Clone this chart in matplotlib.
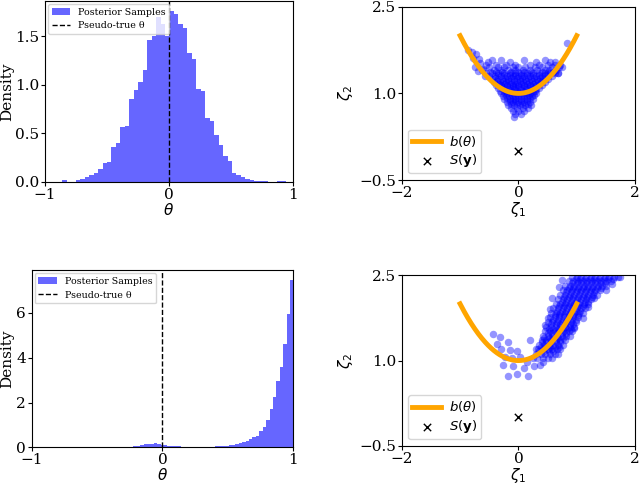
import numpy as np
import matplotlib
matplotlib.use("Agg")
import matplotlib.pyplot as plt

plt.rcParams['font.family'] = ['DejaVu Serif']
plt.rcParams['font.size'] = 11
plt.rcParams['xtick.major.size'] = 3
plt.rcParams['ytick.major.size'] = 3
plt.rcParams['xtick.major.pad'] = 1.2
plt.rcParams['ytick.major.pad'] = 1.2

# ---- histogram data (density per bin) ----
top_bin_lo, top_bin_hi = -0.86, 0.94
top_density = [0.02, 0.0, 0.0, 0.02, 0.03, 0.05, 0.07, 0.09, 0.13, 0.19,
               0.21, 0.36, 0.40, 0.56, 0.58, 0.85, 0.95, 1.03, 1.15, 1.46,
               1.50, 1.70, 1.62, 1.50, 1.76, 1.73, 1.62, 1.58, 1.33, 1.26,
               0.96, 0.94, 0.66, 0.63, 0.48, 0.38, 0.27, 0.22, 0.09, 0.07,
               0.05, 0.03, 0.02, 0.01, 0.01, 0.005, 0.0, 0.0, 0.005, 0.01]

bot_bin_lo, bot_bin_hi = -0.30, 1.00
bot_density = [0.02, 0.03, 0.04, 0.06, 0.08, 0.10, 0.14, 0.15, 0.16, 0.18,
               0.15, 0.12, 0.10, 0.08, 0.07, 0.06, 0.05, 0.04, 0.03, 0.03,
               0.03, 0.02, 0.02, 0.02, 0.03, 0.03, 0.04, 0.05, 0.05, 0.07,
               0.08, 0.10, 0.12, 0.15, 0.18, 0.26, 0.28, 0.38, 0.46, 0.52,
               0.72, 0.92, 1.22, 1.70, 2.25, 2.95, 3.60, 4.60, 5.95, 7.45]

pseudo_true = 0.0

# ---- summary statistic samples (zeta_1, zeta_2), rows of equal zeta_2 ----
top_rows = [
    (1.58, [-0.45, -0.3, 0.1, 0.45]),
    (1.55, [-0.52, -0.15, 0.3, 0.55, 0.62]),
    (1.50, [-0.55, -0.38, -0.22, -0.05, 0.2, 0.35, 0.5, 0.62, 0.72]),
    (1.45, [-0.5, -0.35, -0.25, -0.1, 0.0, 0.12, 0.28, 0.4, 0.58, 0.7, 0.75]),
    (1.40, [-0.62, -0.42, -0.3, -0.18, -0.05, 0.08, 0.2, 0.32, 0.45, 0.52, 0.65]),
    (1.37, [-0.48, -0.38, -0.28, -0.12, 0.0, 0.1, 0.22, 0.4, 0.5, 0.6]),
    (1.35, [-0.55, -0.45, -0.35, -0.25, -0.15, -0.05, 0.05, 0.15, 0.25, 0.35, 0.45, 0.55, 0.62, 0.68]),
    (1.32, [-0.35, -0.25, -0.15, -0.05, 0.05, 0.15, 0.25, 0.35, 0.45]),
    (1.30, [-0.5, -0.4, -0.3, -0.2, -0.1, 0.0, 0.1, 0.2, 0.3, 0.4, 0.5, 0.58]),
    (1.27, [-0.4, -0.23, -0.13, -0.03, 0.07, 0.17, 0.27, 0.37, 0.46]),
    (1.25, [-0.45, -0.35, -0.28, -0.18, -0.08, 0.02, 0.12, 0.22, 0.32, 0.42, 0.5]),
    (1.22, [-0.37, -0.27, -0.17, -0.07, 0.03, 0.13, 0.23, 0.33, 0.41]),
    (1.20, [-0.42, -0.32, -0.22, -0.12, -0.02, 0.08, 0.18, 0.28, 0.38, 0.46]),
    (1.17, [-0.34, -0.25, -0.15, -0.05, 0.05, 0.15, 0.25, 0.35]),
    (1.15, [-0.38, -0.3, -0.2, -0.1, 0.0, 0.1, 0.2, 0.3, 0.4]),
    (1.12, [-0.3, -0.2, -0.1, 0.0, 0.1, 0.2, 0.3]),
    (1.10, [-0.35, -0.25, -0.15, -0.05, 0.05, 0.15, 0.25, 0.35]),
    (1.07, [-0.27, -0.17, -0.07, 0.03, 0.13, 0.23, 0.31]),
    (1.05, [-0.32, -0.22, -0.12, -0.02, 0.08, 0.18, 0.28]),
    (1.02, [-0.25, -0.15, -0.05, 0.05, 0.15, 0.25]),
    (1.00, [-0.3, -0.2, -0.1, 0.0, 0.1, 0.2, 0.3]),
    (0.97, [-0.21, -0.11, -0.01, 0.09, 0.19, 0.27]),
    (0.95, [-0.26, -0.16, -0.06, 0.04, 0.14, 0.24]),
    (0.92, [-0.2, -0.1, 0.0, 0.1, 0.2]),
    (0.90, [-0.25, -0.15, -0.05, 0.05, 0.15, 0.25]),
    (0.87, [-0.15, -0.05, 0.05, 0.15]),
    (0.85, [-0.2, -0.1, 0.0, 0.1, 0.2]),
    (0.82, [-0.13, -0.03, 0.07, 0.17]),
    (0.80, [-0.18, -0.08, 0.02, 0.12, 0.22]),
    (0.75, [-0.12, -0.02, 0.08, 0.16]),
    (0.70, [-0.1, 0.0, 0.1]),
    (0.65, [-0.05, 0.05]),
    (0.60, [-0.08]),
]
top_extra_z1 = [-0.86, -0.8, -0.72, -0.78, -0.68, -0.65, -0.75, -0.6, -0.7, -0.58, 0.83, 0.68]
top_extra_z2 = [1.75, 1.72, 1.68, 1.62, 1.60, 1.52, 1.45, 1.42, 1.38, 1.30, 1.88, 1.35]

bot_rows = [
    (1.05, [0.32, 0.42, 0.5, 0.58]),
    (1.12, [0.3, 0.38, 0.46, 0.54, 0.62, 0.68]),
    (1.16, [0.36, 0.44, 0.52, 0.6]),
    (1.20, [0.34, 0.42, 0.5, 0.58, 0.66, 0.72]),
    (1.24, [0.38, 0.46, 0.54, 0.62, 0.7]),
    (1.28, [0.36, 0.44, 0.52, 0.6, 0.68, 0.76]),
    (1.32, [0.4, 0.48, 0.56, 0.64, 0.72]),
    (1.36, [0.4, 0.48, 0.56, 0.64, 0.72, 0.8]),
    (1.40, [0.44, 0.52, 0.6, 0.68, 0.76]),
    (1.44, [0.42, 0.5, 0.58, 0.66, 0.74, 0.82, 0.88]),
    (1.48, [0.5, 0.58, 0.66, 0.74, 0.82]),
    (1.52, [0.46, 0.54, 0.62, 0.7, 0.78, 0.86, 0.92]),
    (1.56, [0.52, 0.6, 0.68, 0.76, 0.84, 0.9]),
    (1.60, [0.48, 0.56, 0.64, 0.72, 0.8, 0.88, 0.96]),
    (1.64, [0.56, 0.64, 0.72, 0.8, 0.88, 0.94]),
    (1.68, [0.5, 0.58, 0.66, 0.74, 0.82, 0.9, 0.98]),
    (1.72, [0.6, 0.68, 0.76, 0.84, 0.92, 0.98]),
    (1.76, [0.54, 0.62, 0.7, 0.78, 0.86, 0.94, 1.02]),
    (1.80, [0.62, 0.7, 0.78, 0.86, 0.94, 1.02]),
    (1.84, [0.56, 0.64, 0.72, 0.8, 0.88, 0.96, 1.04, 1.1]),
    (1.88, [0.66, 0.74, 0.82, 0.9, 0.98, 1.06]),
    (1.92, [0.6, 0.68, 0.76, 0.84, 0.92, 1.0, 1.08, 1.14]),
    (1.96, [0.7, 0.78, 0.86, 0.94, 1.02, 1.1]),
    (2.00, [0.64, 0.72, 0.8, 0.88, 0.96, 1.04, 1.12, 1.2]),
    (2.04, [0.74, 0.82, 0.9, 0.98, 1.06, 1.14, 1.2]),
    (2.08, [0.68, 0.76, 0.84, 0.92, 1.0, 1.08, 1.16, 1.24]),
    (2.12, [0.78, 0.86, 0.94, 1.02, 1.1, 1.18, 1.26]),
    (2.16, [0.72, 0.8, 0.88, 0.96, 1.04, 1.12, 1.2, 1.28, 1.34]),
    (2.20, [0.82, 0.9, 0.98, 1.06, 1.14, 1.22, 1.3]),
    (2.24, [0.76, 0.84, 0.92, 1.0, 1.08, 1.16, 1.24, 1.32, 1.4]),
    (2.28, [0.86, 0.94, 1.02, 1.1, 1.18, 1.26, 1.34, 1.42]),
    (2.32, [0.8, 0.88, 0.96, 1.04, 1.12, 1.2, 1.28, 1.36, 1.44, 1.5]),
    (2.36, [0.92, 1.0, 1.08, 1.16, 1.24, 1.32, 1.4, 1.48]),
    (2.40, [0.86, 0.94, 1.02, 1.1, 1.18, 1.26, 1.34, 1.42, 1.5, 1.58]),
    (2.44, [0.98, 1.06, 1.14, 1.22, 1.3, 1.38, 1.46, 1.54, 1.62]),
    (2.48, [0.92, 1.0, 1.08, 1.16, 1.24, 1.32, 1.4, 1.48, 1.56, 1.64, 1.7]),
]
bot_extra_z1 = [-0.44, -0.31, -0.17, -0.29, -0.14, -0.03, -0.23, -0.11, 0.03, 0.14,
                -0.26, -0.09, 0.09, -0.17, -0.03, 0.17, 0.20, 0.31, 0.26, 0.37,
                -0.36, 0.25, 0.42, 0.45, 0.50, 0.55, 0.58, 0.70, 0.75, 1.10,
                1.20, 1.30, 1.50, 1.60, 1.75, 0.95]
bot_extra_z2 = [1.46, 1.42, 1.33, 1.21, 1.18, 1.16, 1.07, 1.04, 1.07, 0.98,
                0.93, 0.90, 0.87, 0.73, 0.76, 0.73, 1.36, 1.21, 0.90, 0.93,
                1.30, 1.05, 0.98, 1.62, 1.75, 1.90, 2.10, 2.30, 2.42, 1.75,
                1.95, 2.10, 2.25, 2.35, 2.48, 1.58]

# binding function b(theta) = (theta, 1 + theta^2) for theta in [-1, 1]
theta_grid = np.linspace(-1, 1, 200)
b_z1 = theta_grid
b_z2 = 1 + theta_grid ** 2
obs_z1, obs_z2 = 0.0, 0.0


def rows_to_xy(rows, ex1, ex2):
    z1 = [x for y, xs in rows for x in xs] + ex1
    z2 = [y for y, xs in rows for x in xs] + ex2
    return np.array(z1), np.array(z2)


def plot_hist(ax, lo, hi, dens, ytop, yticks, ylab_x):
    edges = np.linspace(lo, hi, len(dens) + 1)
    centers = 0.5 * (edges[:-1] + edges[1:])
    ax.hist(centers, bins=edges, weights=dens, color='blue', alpha=0.6,
            label='Posterior Samples')
    ax.axvline(pseudo_true, color='black', linestyle='--', linewidth=1,
               label='Pseudo-true θ')
    ax.set_xlim(-1, 1)
    ax.set_ylim(0, ytop)
    ax.set_xticks([-1, 0, 1])
    ax.set_yticks(yticks)
    ax.set_xlabel(r'$\theta$', labelpad=0)
    ax.set_ylabel('Density')
    ax.yaxis.set_label_coords(ylab_x, 0.5)
    ax.legend(loc='upper left', fontsize=6.8, borderaxespad=0.3)


def plot_scatter(ax, z1, z2):
    ax.scatter(z1, z2, s=29, color='blue', alpha=0.42, linewidths=0)
    ax.plot(b_z1, b_z2, color='orange', linewidth=3.5, label=r'$b(\theta)$')
    ax.scatter([obs_z1], [obs_z2], marker='x', color='black', s=28,
               linewidths=1, label=r'$S(\mathbf{y})$')
    ax.set_xlim(-2, 2)
    ax.set_ylim(-0.5, 2.5)
    ax.set_xticks([-2, 0, 2])
    ax.set_yticks([-0.5, 1.0, 2.5])
    ax.set_xlabel(r'$\zeta_1$', labelpad=0)
    ax.set_ylabel(r'$\zeta_2$', labelpad=3)
    leg = ax.legend(loc='lower left', fontsize=9.5, borderaxespad=0.5,
                    handlelength=2.2, handletextpad=0.6, labelspacing=0.3,
                    borderpad=0.3)
    for t in leg.get_texts():
        t.set_family('DejaVu Sans')


fig = plt.figure(figsize=(6.4, 4.84), dpi=100)
ax_tl = fig.add_axes([0.0703, 0.624, 0.3875, 0.374])
ax_tr = fig.add_axes([0.6277, 0.628, 0.3646, 0.358])
ax_bl = fig.add_axes([0.0495, 0.0755, 0.4088, 0.366])
ax_br = fig.add_axes([0.6277, 0.0790, 0.3646, 0.352])

plot_hist(ax_tl, top_bin_lo, top_bin_hi, top_density, 1.86,
          [0.0, 0.5, 1.0, 1.5], -0.125)
plot_hist(ax_bl, bot_bin_lo, bot_bin_hi, bot_density, 7.9,
          [0, 2, 4, 6], -0.068)

tz1, tz2 = rows_to_xy(top_rows, top_extra_z1, top_extra_z2)
bz1, bz2 = rows_to_xy(bot_rows, bot_extra_z1, bot_extra_z2)
plot_scatter(ax_tr, tz1, tz2)
plot_scatter(ax_br, bz1, bz2)

fig.savefig('out.png', dpi=100)
